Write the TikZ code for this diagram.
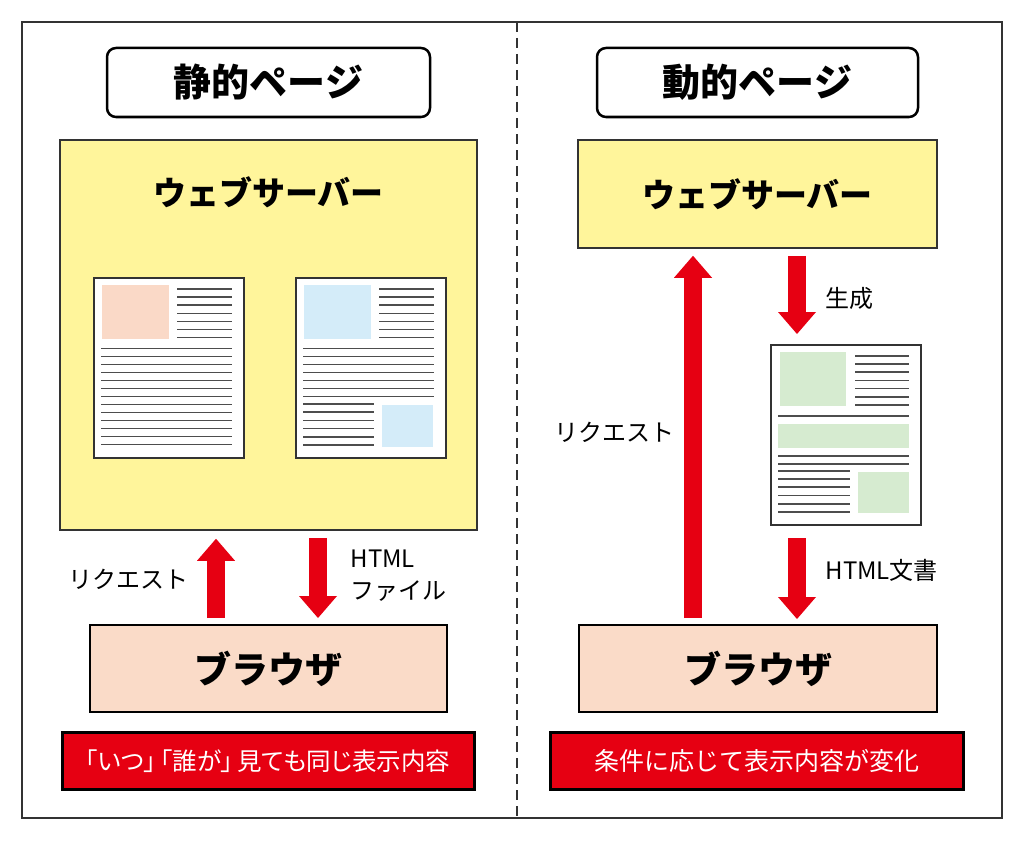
\documentclass[tikz,border=0pt]{standalone}
\usepackage{fontspec}
\setmainfont{Noto Sans CJK JP}
\usetikzlibrary{arrows.meta,positioning}
\definecolor{serveryellow}{HTML}{FFF59B}
\definecolor{browserpeach}{HTML}{FADBC8}
\definecolor{imgpeach}{HTML}{FAD9C7}
\definecolor{imgblue}{HTML}{D4ECF9}
\definecolor{imggreen}{HTML}{D6EBD0}
\definecolor{signred}{HTML}{E60012}
\definecolor{inkgrey}{HTML}{4D4D4D}
\tikzset{
 titlebox/.style={draw,line width=2.5pt,rounded corners=9pt,minimum width=323pt,minimum height=69pt,
   font=\bfseries\fontsize{38pt}{40pt}\selectfont},
 serverbox/.style={draw=black!80,line width=1.5pt,fill=serveryellow},
 servertext/.style={font=\bfseries\fontsize{33pt}{36pt}\selectfont},
 browserbox/.style={draw,line width=2pt,fill=browserpeach,minimum height=87pt,
   font=\bfseries\fontsize{37pt}{40pt}\selectfont},
 notebar/.style={draw,line width=3pt,fill=signred,text=white,minimum height=57pt,minimum width=412pt},
 docpaper/.style={draw=black!80,line width=2pt,fill=white,minimum width=150pt,minimum height=180pt},
 docline/.style={draw=inkgrey,line width=1.6pt},
 sidetext/.style={font=\fontsize{24pt}{32pt}\selectfont},
 redarrow/.style={draw=signred,line width=18pt,-{Triangle[width=38pt,length=22pt,line width=0pt]}},
}
\begin{document}
\begin{tikzpicture}[x=1pt,y=-1pt]
 \useasboundingbox (0,0) rectangle (1024,840);
 \draw[black!80,line width=1.5pt] (22,22) rectangle (1002,818);
 \draw[black!80,line width=1.2pt,dash pattern=on 10pt off 6pt] (517,22) -- (517,818);

 % static page
 \node[titlebox] (titleL) at (268.5,82.5) {静的ページ};
 \node[serverbox,minimum width=417pt,minimum height=390pt] (serverL) at (268.5,335) {};
 \node[servertext] (serverLt) at ([yshift=-53pt]serverL.north) {ウェブサーバー};
 \node[docpaper] (docL1) at (169,368) {};
 \node[docpaper] (docL2) at (371,368) {};
 \begin{scope}[shift={(docL1.north west)}]
  \fill[imgpeach] (9,8) rectangle (76,62);
  \foreach \k in {0,...,6} \draw[docline] (84,{12+8.1*\k}) -- (139,{12+8.1*\k});
  \foreach \k in {0,...,12} \draw[docline] (8,{71.3+8.03*\k}) -- (139,{71.3+8.03*\k});
 \end{scope}
 \begin{scope}[shift={(docL2.north west)}]
  \fill[imgblue] (9,8) rectangle (76,62);
  \foreach \k in {0,...,6} \draw[docline] (84,{12+8.1*\k}) -- (139,{12+8.1*\k});
  \foreach \k in {0,...,6} \draw[docline] (8,{71.3+8.03*\k}) -- (139,{71.3+8.03*\k});
  \foreach \k in {0,...,5} \draw[docline] (8,{127+8.2*\k}) -- (79,{127+8.2*\k});
  \fill[imgblue] (87,128) rectangle (138,170);
 \end{scope}
 \node[browserbox,minimum width=357pt] (browserL) at (268.5,668.5) {ブラウザ};
 \draw[redarrow,shorten <=6pt,shorten >=8pt] (216,0 |- browserL.north) -- (216,0 |- serverL.south);
 \draw[redarrow,shorten <=7pt,shorten >=6pt] (318,0 |- serverL.south) -- (318,0 |- browserL.north);
 \node[sidetext] (reqL) at (128,579) {リクエスト};
 \node[sidetext,anchor=west,align=left] (htmlL) at (347,576) {HTML\\ファイル};
 \node[notebar,font=\fontsize{24.5pt}{26pt}\selectfont\addfontfeatures{RawFeature=+palt}] (noteL) at (268,761) {「いつ」\,「誰が」\,見ても同じ表示内容};

 % dynamic page
 \node[titlebox,minimum width=321pt] (titleR) at (757.5,82.5) {動的ページ};
 \node[serverbox,servertext,minimum width=359pt,minimum height=108pt] (serverR) at (757.5,194) {ウェブサーバー};
 \node[docpaper] (docR) at (846,435) {};
 \begin{scope}[shift={(docR.north west)}]
  \fill[imggreen] (10,8) rectangle (76,62);
  \foreach \k in {0,...,6} \draw[docline] (85,{11.7+8.2*\k}) -- (139,{11.7+8.2*\k});
  \draw[docline] (8,71.7) -- (139,71.7);
  \fill[imggreen] (8,80) rectangle (139,104);
  \foreach \y in {111.7,120} \draw[docline] (8,\y) -- (139,\y);
  \foreach \k in {0,...,5} \draw[docline] (8,{126.7+8.26*\k}) -- (80,{126.7+8.26*\k});
  \fill[imggreen] (88,128) rectangle (139,169);
 \end{scope}
 \node[browserbox,minimum width=358pt] (browserR) at (758,668.5) {ブラウザ};
 \draw[redarrow,shorten <=6pt,shorten >=7pt] (693,0 |- browserR.north) -- (693,0 |- serverR.south);
 \draw[redarrow,shorten <=7pt,shorten >=10pt] (797,0 |- serverR.south) -- (797,0 |- docR.north);
 \draw[redarrow,shorten <=12pt,shorten >=5pt] (797,0 |- docR.south) -- (797,0 |- browserR.north);
 \node[sidetext] (reqR) at (614,432) {リクエスト};
 \node[sidetext,anchor=west] (gen) at (822,298) {生成};
 \node[sidetext,anchor=west] (htmlR) at (822,570) {HTML文書};
 \node[notebar,font=\fontsize{25pt}{27pt}\selectfont,minimum width=413pt] (noteR) at (756.5,761) {条件に応じて表示内容が変化};
\end{tikzpicture}
\end{document}
